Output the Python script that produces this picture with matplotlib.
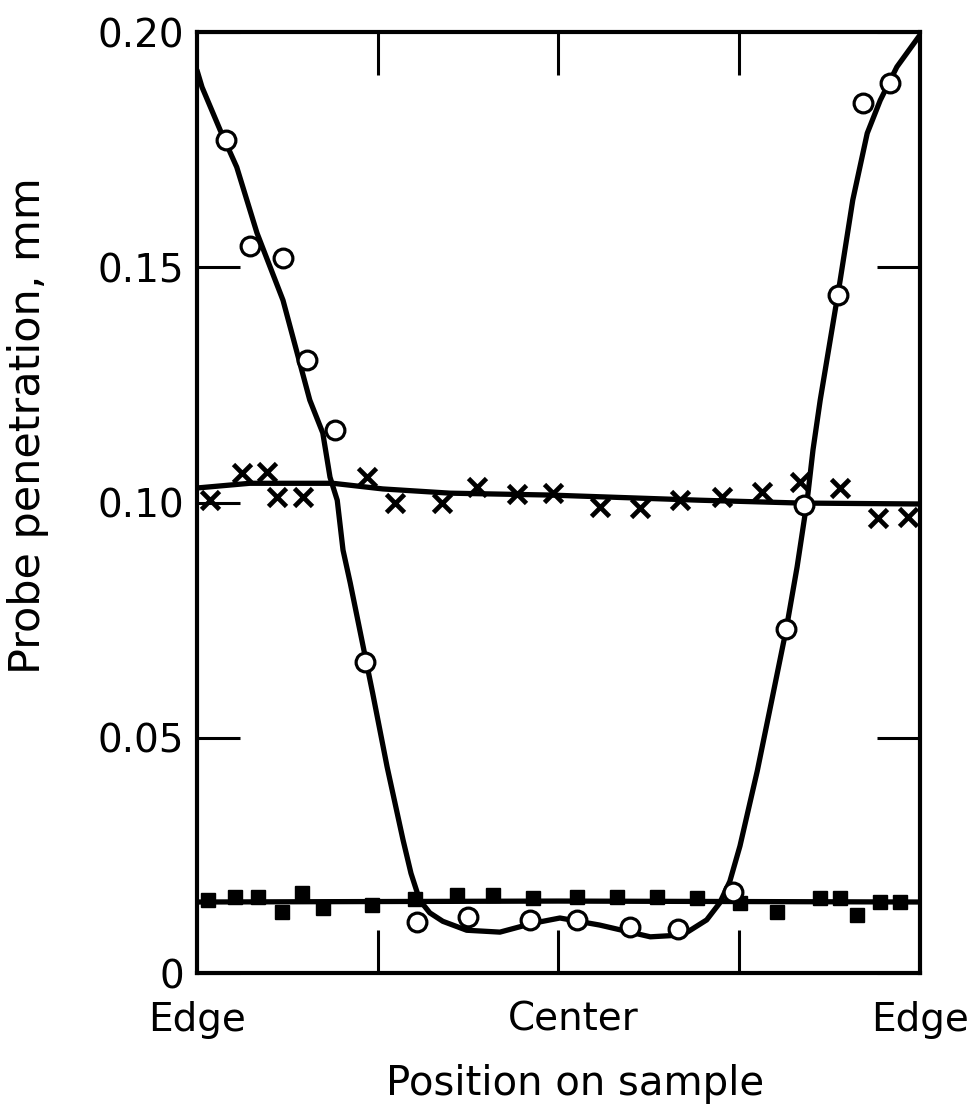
import matplotlib
matplotlib.use("Agg")
import matplotlib.pyplot as plt
from matplotlib.ticker import FixedLocator

# position across the sample, 0 = one edge, 1 = the other edge
circle_pos = [0.040, 0.074, 0.119, 0.152, 0.191, 0.232, 0.304, 0.375, 0.461, 0.526,
              0.599, 0.665, 0.741, 0.815, 0.840, 0.887, 0.921, 0.959]
circle_val = [0.1770, 0.1545, 0.1520, 0.1303, 0.1154, 0.0661, 0.0108, 0.0119, 0.0113, 0.0113,
              0.0098, 0.0094, 0.0172, 0.0731, 0.0995, 0.1441, 0.1849, 0.1892]

circle_curve_pos = [0.0, 0.007, 0.032, 0.055, 0.083, 0.119, 0.156, 0.174, 0.184, 0.194,
                    0.202, 0.212, 0.230, 0.243, 0.263, 0.285, 0.296, 0.308, 0.322, 0.340,
                    0.373, 0.419, 0.465, 0.502, 0.557, 0.627, 0.672, 0.705, 0.723, 0.737,
                    0.751, 0.775, 0.795, 0.815, 0.830, 0.844, 0.852, 0.862, 0.889, 0.907,
                    0.927, 0.945, 0.968, 1.0]
circle_curve_val = [0.1919, 0.1883, 0.1792, 0.1713, 0.1573, 0.1430, 0.1218, 0.1148, 0.1054, 0.1005,
                    0.0899, 0.0829, 0.0693, 0.0595, 0.0438, 0.0283, 0.0212, 0.0155, 0.0128, 0.0110,
                    0.0091, 0.0087, 0.0106, 0.0117, 0.0102, 0.0077, 0.0081, 0.0113, 0.0149, 0.0195,
                    0.0270, 0.0430, 0.0580, 0.0731, 0.0863, 0.1005, 0.1112, 0.1218, 0.1467, 0.1643,
                    0.1785, 0.1855, 0.1926, 0.1994]

cross_pos = [0.018, 0.062, 0.097, 0.111, 0.147, 0.235, 0.274, 0.339, 0.387, 0.443,
             0.492, 0.557, 0.613, 0.668, 0.726, 0.781, 0.834, 0.889, 0.942, 0.983]
cross_val = [0.1005, 0.1063, 0.1065, 0.1012, 0.1012, 0.1054, 0.0999, 0.0999, 0.1033, 0.1018,
             0.1020, 0.0990, 0.0988, 0.1005, 0.1012, 0.1022, 0.1044, 0.1031, 0.0967, 0.0969]

cross_curve_pos = [0.0, 0.073, 0.188, 0.257, 0.350, 0.488, 0.696, 0.834, 1.0]
cross_curve_val = [0.1031, 0.1041, 0.1041, 0.1029, 0.1020, 0.1016, 0.1005, 0.0999, 0.0997]

square_pos = [0.015, 0.053, 0.084, 0.118, 0.145, 0.174, 0.242, 0.302, 0.360, 0.409, 0.465,
              0.526, 0.581, 0.636, 0.692, 0.751, 0.802, 0.862, 0.889, 0.913, 0.945, 0.972]
square_val = [0.0155, 0.0162, 0.0162, 0.0130, 0.0170, 0.0138, 0.0145, 0.0157, 0.0166, 0.0166, 0.0159,
              0.0162, 0.0162, 0.0162, 0.0159, 0.0149, 0.0130, 0.0159, 0.0159, 0.0123, 0.0151, 0.0151]

square_curve_pos = [0.0, 0.5, 1.0]
square_curve_val = [0.0151, 0.0153, 0.0151]

y_ticks = [0, 0.05, 0.10, 0.15, 0.20]
y_labels = ["0", "0.05", "0.10", "0.15", "0.20"]
x_label_pos = [0.0, 0.52, 1.0]
x_labels = ["Edge", "Center", "Edge"]

plt.rcParams['font.family'] = ['DejaVu Sans']

fig = plt.figure(figsize=(9.78, 11.07), dpi=100)
ax = fig.add_axes([0.2014, 0.1210, 0.7393, 0.8500])

# fitted curves
ax.plot(square_curve_pos, square_curve_val, color='black', lw=3.8, zorder=2)
ax.plot(cross_curve_pos, cross_curve_val, color='black', lw=3.8, zorder=2)
ax.plot(circle_curve_pos, circle_curve_val, color='black', lw=3.8, zorder=2,
        solid_joinstyle='round', solid_capstyle='round')

# measured points
ax.plot(square_pos, square_val, ls='none', marker='s', ms=10.5, color='black', zorder=3)
ax.plot(cross_pos, cross_val, ls='none', marker='x', ms=12.5, mew=3.4, color='black', zorder=3)
ax.plot(circle_pos, circle_val, ls='none', marker='o', ms=13.5, mew=2.3,
        mfc='white', mec='black', zorder=4)

ax.set_xlim(0, 1)
ax.set_ylim(0, 0.20)

for sp in ax.spines.values():
    sp.set_linewidth(3.0)

ax.set_yticks(y_ticks)
ax.set_yticklabels(y_labels)
ax.tick_params(axis='y', direction='in', length=31, width=2.2, left=True, right=True,
               labelsize=28, pad=9)

ax.set_xticks(x_label_pos)
ax.set_xticklabels(x_labels)
ax.tick_params(axis='x', which='major', length=0, labelsize=28, pad=20)
ax.xaxis.set_minor_locator(FixedLocator([0.25, 0.5, 0.75]))
ax.tick_params(axis='x', which='minor', direction='in', length=31, width=2.2,
               top=True, bottom=True)

ax.set_xlabel("Position on sample", fontsize=29)
ax.set_ylabel("Probe penetration, mm", fontsize=31)
ax.xaxis.set_label_coords(0.523, -0.097)
ax.yaxis.set_label_coords(-0.205, 0.582)

fig.savefig("out.png", dpi=100, facecolor='white')
